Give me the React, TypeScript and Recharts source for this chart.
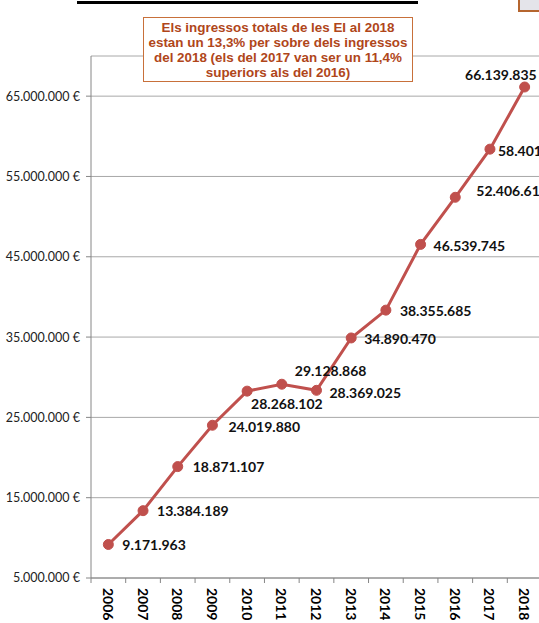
import React from "react";
import { LineChart, Line, XAxis, YAxis, CartesianGrid, LabelList } from "recharts";

const years = ["2006", "2007", "2008", "2009", "2010", "2011", "2012", "2013", "2014", "2015", "2016", "2017", "2018"];
const ingressos = [
  9171963, 13384189, 18871107, 24019880, 28268102, 29128868, 28369025,
  34890470, 38355685, 46539745, 52406610, 58401354, 66139835,
];
const yTicks = [5000000, 15000000, 25000000, 35000000, 45000000, 55000000, 65000000];
const noteLines = [
  "Els ingressos totals de les EI al 2018",
  "estan un 13,3% per sobre dels ingressos",
  "del 2018 (els del 2017 van ser un 11,4%",
  "superiors als del 2016)",
];

// label placement style (dx, dy, anchor) per point
const LABEL_STYLE: [number, number, string][] = [
  [14, 0, "start"], [14, 0, "start"], [15, 0, "start"], [16, 1, "start"],
  [4, 12, "start"], [13, -14, "start"], [13, 2, "start"], [13, 1, "start"],
  [14, 0, "start"], [13, 1, "start"], [21, -7, "start"], [8, 1, "start"],
  [12, -13, "end"],
];

const data = years.map((y, i) => ({ year: y, value: ingressos[i] }));

const fmt = (v: number) => String(Math.round(v)).replace(/\B(?=(\d{3})+(?!\d))/g, ".");

const RED = "#c0504d";
const FONT = "Lato, 'Liberation Sans', sans-serif";

const XTick = (props: any) => {
  const { x, y, payload, index } = props;
  const off = payload && payload.offset != null && payload.offset > 0 ? payload.offset : 17.3;
  return (
    <g>
      <line x1={x - off} x2={x - off} y1={y} y2={y + 5} stroke="#868686" strokeWidth={1} />
      {index === years.length - 1 && (
        <line x1={x + off} x2={x + off} y1={y} y2={y + 5} stroke="#868686" strokeWidth={1} />
      )}
      <text
        x={0}
        y={0}
        transform={`translate(${x},${y + 10}) rotate(90)`}
        textAnchor="start"
        dominantBaseline="central"
        fontFamily={FONT}
        fontWeight="bold"
        fontSize={14}
        fill="#000"
      >
        {payload.value}
      </text>
    </g>
  );
};

const ValueLabel = (props: any) => {
  const { x, y, value, index } = props;
  const s = LABEL_STYLE[index] || [12, 0, "start"];
  return (
    <text
      x={x + s[0]}
      y={y + s[1]}
      textAnchor={s[2]}
      dominantBaseline="central"
      fontFamily={FONT}
      fontWeight="bold"
      fontSize={14}
      fill="#111"
    >
      {fmt(value)}
    </text>
  );
};

export default function App() {
  return (
    <div style={{ position: "absolute", left: 0, top: 0, width: 539, height: 623, overflow: "hidden", background: "#fff" }}>
      <div style={{ position: "absolute", left: 77, top: 1, width: 341, height: 3, background: "#000" }} />
      <div
        style={{
          position: "absolute",
          left: 518,
          top: -4,
          width: 30,
          height: 16,
          background: "#e4e4ea",
          border: "2px solid #b5652f",
          boxSizing: "border-box",
        }}
      />
      <LineChart width={560} height={623} data={data} margin={{ top: 56, right: 18, bottom: 0, left: 0 }}>
        <CartesianGrid horizontal vertical={false} stroke="#a8a8a8" />
        <XAxis
          dataKey="year"
          scale="band"
          stroke="#868686"
          tickLine={false}
          tickSize={0}
          tickMargin={0}
          height={45}
          interval={0}
          tick={<XTick />}
        />
        <YAxis
          domain={[5000000, 70000000]}
          ticks={yTicks}
          width={91}
          stroke="#868686"
          tickSize={5}
          tickMargin={6}
          tickFormatter={(v: number) => `${fmt(v)} €`}
          tick={{ fontFamily: FONT, fontSize: 12.5, fill: "#222" }}
          interval={0}
        />
        <Line
          type="linear"
          dataKey="value"
          stroke={RED}
          strokeWidth={3}
          dot={{ r: 5, fill: RED, stroke: RED, strokeWidth: 1 }}
          isAnimationActive={false}
        >
          <LabelList dataKey="value" content={<ValueLabel />} />
        </Line>
      </LineChart>
      <div
        style={{
          position: "absolute",
          left: 143,
          top: 17,
          width: 270,
          height: 65,
          border: "1.5px solid #c8703a",
          boxSizing: "border-box",
          background: "#fff",
          color: "#b0461a",
          fontFamily: "'Liberation Sans', Arial, sans-serif",
          fontWeight: "bold",
          fontSize: 13.4,
          lineHeight: "15px",
          textAlign: "center",
          paddingTop: 2,
          whiteSpace: "nowrap",
        }}
      >
        {noteLines.map((l, i) => (
          <div key={i}>{l}</div>
        ))}
      </div>
    </div>
  );
}
